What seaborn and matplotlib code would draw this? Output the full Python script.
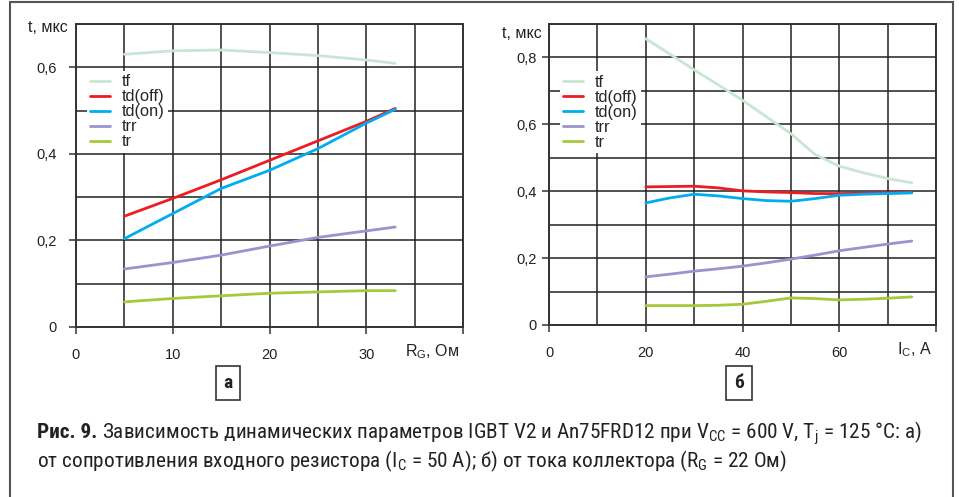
import matplotlib
matplotlib.use('Agg')
import numpy as np
import pandas as pd
import matplotlib.pyplot as plt
import seaborn as sns
from matplotlib import font_manager
from matplotlib.patches import Rectangle
from matplotlib.ticker import FuncFormatter, MultipleLocator

W, H = 959, 497

series_names = ['tf', 'td(off)', 'td(on)', 'trr', 'tr']
series_colors = ['#c9e5d3', '#ec1c24', '#00adef', '#9b93cf', '#a5c93a']

# panel a: vs gate resistor RG, Ohm (IC = 50 A)
rg = [5, 10, 15, 20, 25, 30, 33]
a_tf = [0.630, 0.638, 0.640, 0.634, 0.627, 0.617, 0.609]
a_tdoff = [0.256, 0.297, 0.340, 0.385, 0.430, 0.475, 0.505]
a_tdon = [0.204, 0.262, 0.320, 0.362, 0.412, 0.471, 0.503]
a_trr = [0.134, 0.149, 0.166, 0.187, 0.207, 0.222, 0.231]
a_tr = [0.058, 0.066, 0.072, 0.078, 0.081, 0.084, 0.084]

# panel b: vs collector current IC, A (RG = 22 Ohm)
ic = [20, 25, 30, 35, 40, 45, 50, 55, 60, 65, 70, 75]
b_tf = [0.856, 0.810, 0.763, 0.718, 0.672, 0.622, 0.572, 0.510, 0.475, 0.455, 0.438, 0.425]
b_tdoff = [0.413, 0.414, 0.415, 0.410, 0.401, 0.398, 0.396, 0.393, 0.393, 0.394, 0.395, 0.396]
b_tdon = [0.365, 0.380, 0.391, 0.386, 0.378, 0.372, 0.370, 0.378, 0.388, 0.391, 0.393, 0.395]
b_trr = [0.144, 0.152, 0.161, 0.168, 0.176, 0.186, 0.197, 0.209, 0.222, 0.232, 0.242, 0.251]
b_tr = [0.058, 0.058, 0.058, 0.059, 0.062, 0.071, 0.081, 0.079, 0.075, 0.077, 0.080, 0.084]

a_ticks = [0, 10, 20, 30, 40]
b_ticks = [0, 20, 40, 60, 80]

sns.set_theme(style='white')
plt.rcParams['font.family'] = ['Liberation Sans', 'DejaVu Sans']

names = {f.name for f in font_manager.fontManager.ttflist}
cap_font = next((f for f in ['Liberation Sans Narrow', 'Roboto Condensed', 'Open Sans Condensed']
                 if f in names), 'Liberation Sans')


def long_df(x, cols):
    frames = [pd.DataFrame({'x': x, 't': v, 'param': n}) for n, v in zip(series_names, cols)]
    return pd.concat(frames, ignore_index=True)


def rect(x0, y0, x1, y1):
    # pixel box -> figure fraction
    return [x0 / W, 1 - y1 / H, (x1 - x0) / W, (y1 - y0) / H]


comma = FuncFormatter(lambda v, p: ('%g' % round(v, 2)).replace('.', ','))

fig = plt.figure(figsize=(W / 100, H / 100), dpi=100)

panels = [
    (rect(76, 24, 463, 327), long_df(rg, [a_tf, a_tdoff, a_tdon, a_trr, a_tr]),
     (0, 40), (0, 0.7), a_ticks, 5, 9, (0.028, 0.845)),
    (rect(549, 24, 936, 325), long_df(ic, [b_tf, b_tdoff, b_tdon, b_trr, b_tr]),
     (0, 80), (0, 0.9), b_ticks, 10, 4, (0.028, 0.843)),
]

for pos, df, xl, yl, xt, xminor, ypad, leg_at in panels:
    ax = fig.add_axes(pos)
    sns.lineplot(data=df, x='x', y='t', hue='param', hue_order=series_names,
                 palette=series_colors, lw=2, ax=ax)
    ax.set_xlim(*xl)
    ax.set_ylim(*yl)
    ax.set_xticks(xt)
    ax.set_xticklabels([str(v) for v in xt[:-1]] + [''])
    ax.xaxis.set_minor_locator(MultipleLocator(xminor))
    ax.yaxis.set_major_locator(MultipleLocator(0.2))
    ax.yaxis.set_minor_locator(MultipleLocator(0.1))
    ax.yaxis.set_major_formatter(comma)
    ax.set_xlabel('')
    ax.set_ylabel('')
    ax.set_axisbelow(True)
    ax.grid(True, which='both', color='#222222', lw=1.1)
    for s in ax.spines.values():
        s.set_color('#333333')
        s.set_linewidth(1.4)
    ax.tick_params(which='major', direction='out', length=5, width=1.1, color='#333333',
                   labelsize=10.5, labelcolor='#222222', bottom=True, left=True)
    ax.tick_params(axis='x', which='major', pad=10)
    ax.tick_params(axis='y', which='major', pad=ypad)
    ax.tick_params(which='minor', length=0)
    handles, labels = ax.get_legend_handles_labels()
    ax.legend(handles, labels, loc='upper left', bbox_to_anchor=leg_at,
              frameon=True, facecolor='white', edgecolor='none', framealpha=1,
              fancybox=False, fontsize=11.8, handlelength=1.2, handletextpad=0.75,
              labelspacing=0.0, borderpad=0.2, borderaxespad=0)

# axis captions
fig.text(68 / W, 1 - 27 / H, 't, мкс', ha='right', va='center', fontsize=11.5, color='#222222')
fig.text(542 / W, 1 - 33 / H, 't, мкс', ha='right', va='center', fontsize=11.5, color='#222222')
fig.text(405 / W, 1 - 352 / H, r'R$_\mathregular{G}$, Ом', ha='left', va='center',
         fontsize=11.5, color='#222222')
fig.text(897 / W, 1 - 350 / H, r'I$_\mathregular{C}$, A', ha='left', va='center',
         fontsize=11.5, color='#222222')

# panel letters
for x, letter in [(228, 'а'), (739, 'б')]:
    fig.text(x / W, 1 - 383 / H, letter, ha='center', va='center', fontsize=14,
             fontweight='bold', family=[cap_font, 'DejaVu Sans'], color='#222222',
             bbox=dict(boxstyle='square,pad=0.4', fc='white', ec='#333333', lw=1.2))

# outer frame
fig.add_artist(Rectangle((10 / W, -0.02), (953 - 10) / W, 1.02 - 2 / H,
                         transform=fig.transFigure, fill=False, ec='#555555', lw=1.5))

# figure caption
cap_kw = dict(fontsize=15.3, family=[cap_font, 'DejaVu Sans'], color='#222222', va='baseline')
t1 = fig.text(37 / W, 1 - 438 / H, 'Рис. 9.', fontweight='bold', **cap_kw)
fig.canvas.draw()
bb = t1.get_window_extent()
fig.text((bb.x1 + 5) / W, 1 - 438 / H,
         r'Зависимость динамических параметров IGBT V2 и An75FRD12 при '
         r'V$_\mathregular{CC}$ = 600 V, T$_\mathregular{j}$ = 125 °C: а)', **cap_kw)
fig.text(37 / W, 1 - 467 / H,
         r'от сопротивления входного резистора (I$_\mathregular{C}$ = 50 A); '
         r'б) от тока коллектора (R$_\mathregular{G}$ = 22 Ом)', **cap_kw)

fig.savefig('out.png', dpi=100)
